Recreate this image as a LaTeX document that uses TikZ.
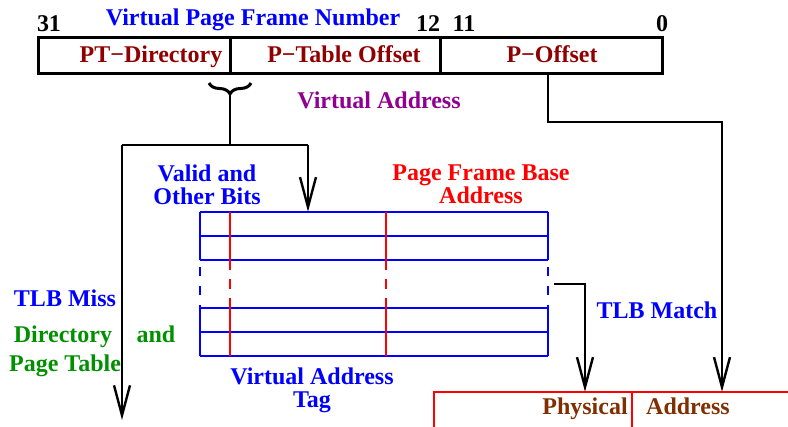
\documentclass[tikz,border=0pt]{standalone}
\usepackage{fontspec}
\setmainfont{Liberation Serif}
\usetikzlibrary{arrows.meta,decorations.pathreplacing}

\definecolor{fieldred}{HTML}{900000}
\definecolor{addrpurple}{HTML}{900090}
\definecolor{ptgreen}{HTML}{009000}
\definecolor{physbrown}{HTML}{803000}
\definecolor{tlbblue}{HTML}{0000FF}
\definecolor{tlbred}{HTML}{FF0000}

\begin{document}
\begin{tikzpicture}[x=1pt,y=-1pt,
  lbl/.style={font=\fontsize{24}{26}\selectfont\bfseries, inner sep=0pt, anchor=base},
  field/.style={draw=black, line width=3pt, inner sep=0pt},
  wire/.style={draw=black, line width=2.4pt},
  arrowwire/.style={wire, -{Straight Barb[length=30pt,width=16pt]}},
  bluerule/.style={draw=tlbblue, line width=2.7pt},
  redrule/.style={draw=tlbred, line width=2.7pt},
  dashblue/.style={bluerule, dash pattern=on 9pt off 10pt, dash phase=12pt},
  dashred/.style={redrule, dash pattern=on 10pt off 9pt}]

\useasboundingbox (0,0) rectangle (788,427);

% ---- virtual address fields ----
\node[field, minimum width=192pt, minimum height=36pt] (ptdir) at (134,56) {};
\node[field, minimum width=210pt, minimum height=36pt] (ptoff) at (335,56) {};
\node[field, minimum width=222pt, minimum height=36pt] (poff)  at (551,56) {};

\node[lbl, text=fieldred] (tptdir) at (151,63) {PT−Directory};
\node[lbl, text=fieldred] (tptoff) at (344,63) {P−Table Offset};
\node[lbl, text=fieldred] (tpoff)  at (552,63) {P−Offset};

\node[lbl] (b31) at (49,32) {31};
\node[lbl] (b12) at (428,32) {12};
\node[lbl] (b11) at (464,32) {11};
\node[lbl] (b0)  at (662,32) {0};
\node[lbl, text=tlbblue] (vpfn) at (253,26) {Virtual Page Frame Number};
\node[lbl, text=addrpurple] (vaddr) at (379,109) {Virtual Address};

% ---- brace under the directory / table split ----
\draw[line width=3pt, decorate, decoration={brace, amplitude=11pt}]
  (251,83) -- (209,83);
\coordinate (bracetip) at (230,95);
\coordinate (split) at (230,145);
\coordinate (missL) at (122,145);
\coordinate (tlbR)  at (308,145);
\coordinate (missend) at (122,420);

% ---- TLB ----
\node[inner sep=0pt, minimum width=348pt, minimum height=144pt] (tlb) at (374,284) {};

\foreach \yy in {212,236,260,308,332,356}
  \draw[bluerule] (200,\yy) -- (548,\yy);
\foreach \xx in {200,548}{
  \draw[bluerule] (\xx,212) -- (\xx,260);
  \draw[dashblue] (\xx,260) -- (\xx,308);
  \draw[bluerule] (\xx,308) -- (\xx,356);
}
\foreach \xx in {230,386}{
  \draw[redrule] (\xx,212) -- (\xx,260);
  \draw[dashred] (\xx,260) -- (\xx,308);
  \draw[redrule] (\xx,308) -- (\xx,356);
}

\node[lbl, text=tlbblue, align=center] (valid) at (207,205) {Valid and\\[-3pt]Other Bits};
\node[lbl, text=tlbred, align=center] (pfba) at (481,204) {Page Frame Base\\[-3pt]Address};
\node[lbl, text=tlbblue, align=center] (vatag) at (312,408) {Virtual Address\\[-3pt]Tag};

% ---- physical address ----
\node[inner sep=0pt, minimum width=356pt, minimum height=40pt] (phys) at (612,412) {};
\draw[tlbred, line width=2.7pt] (434,432) -- (434,392) -- (792,392);
\draw[tlbred, line width=2.7pt] (632,392) -- (632,432);
\node[lbl, text=physbrown] (tphys) at (585,415) {Physical};
\node[lbl, text=physbrown] (taddr) at (688,415) {Address};

% ---- connectors ----
\draw[wire] (bracetip) -- (split);
\draw[wire] (missL) -- (tlbR);
\draw[arrowwire] (missL) -- (missend);
\draw[arrowwire] (tlbR) -- (tlbR |- tlb.north);

\coordinate (offout) at (548,74);
\coordinate (offturn) at (722,122);
\draw[arrowwire] (offout) -- (548,122) -- (offturn) -- (offturn |- phys.north);

\coordinate (match) at (554,284);
\coordinate (matchturn) at (585,284);
\draw[arrowwire] (match) -- (matchturn) -- (matchturn |- phys.north);

% ---- side labels ----
\node[lbl, text=tlbblue] (miss) at (65,307) {TLB Miss};
\node[lbl, text=ptgreen] (dir) at (63,343) {Directory};
\node[lbl, text=ptgreen] (and) at (156,343) {and};
\node[lbl, text=ptgreen] (ptab) at (65,372) {Page Table};
\node[lbl, text=tlbblue] (tmatch) at (657,319) {TLB Match};

\end{tikzpicture}
\end{document}
